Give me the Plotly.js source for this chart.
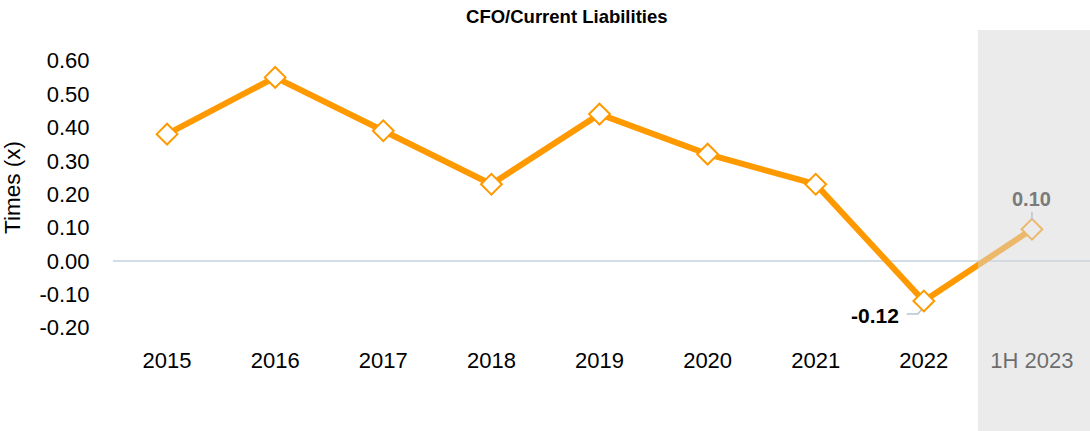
<!DOCTYPE html>
<html>
<head>
<meta charset="utf-8">
<script src="https://cdn.plot.ly/plotly-3.0.1.min.js"></script>
<style>html,body{margin:0;padding:0;background:#fff}#chart{width:1090px;height:431px}</style>
</head>
<body>
<div id="chart"></div>
<script>
var categories = ["2015","2016","2017","2018","2019","2020","2021","2022","1H 2023"];
var values = [0.38, 0.55, 0.39, 0.23, 0.44, 0.32, 0.23, -0.12, 0.095];
var tickLabels = ["2015","2016","2017","2018","2019","2020","2021","2022","1H 2023"];
var yTicks = [-0.2,-0.1,0,0.1,0.2,0.3,0.4,0.5,0.6];
var yTickLabels = ["-0.20","-0.10","0.00","0.10","0.20","0.30","0.40","0.50","0.60"];
var labelledIndex = [7, 8];
var labelledText = ["-0.12", "0.10"];

var FONT = "Liberation Sans, Arial, sans-serif";
var orange = "#FF9900";
var leader = "#b4c4d4";

var trace = {
  type: "scatter",
  mode: "lines+markers",
  x: categories,
  y: values,
  line: {color: orange, width: 6},
  marker: {symbol: "diamond", size: 16, color: "#ffffff", line: {color: orange, width: 2}},
  hoverinfo: "skip",
  cliponaxis: false
};

var i22 = labelledIndex[0], i23 = labelledIndex[1];
var annotations = [
  {x: i22, y: values[i22], xref: "x", yref: "y",
   text: "<b>" + labelledText[0] + "</b>", showarrow: false,
   xshift: -49, yshift: -14,
   font: {family: FONT, size: 21, color: "#000"}},
  {x: i23, y: values[i23], xref: "x", yref: "y",
   text: "<b>" + labelledText[1] + "</b>", showarrow: true, arrowhead: 0,
   arrowcolor: leader, arrowwidth: 1.5, ax: 0, ay: -30, standoff: 9,
   font: {family: FONT, size: 20, color: "#7a7a7a"}}
];

var layout = {
  width: 1090, height: 431,
  margin: {l: 113, r: 0, t: 30, b: 86},
  paper_bgcolor: "#ffffff",
  plot_bgcolor: "#ffffff",
  showlegend: false,
  title: {text: "<b>CFO/Current Liabilities</b>", x: 0.52, xanchor: "center", y: 0.962, yanchor: "middle",
          font: {family: FONT, size: 18.5, color: "#000"}},
  xaxis: {
    type: "category",
    range: [-0.5, 8.537],
    tickvals: categories,
    ticktext: tickLabels,
    showgrid: false, zeroline: false, showline: false,
    ticks: "",
    tickfont: {family: FONT, size: 22, color: "#000"}
  },
  yaxis: {
    range: [-0.2517, 0.692],
    tickvals: yTicks,
    ticktext: yTickLabels,
    showgrid: false, showline: false,
    zeroline: true, zerolinecolor: "#d3dde6", zerolinewidth: 1.5,
    ticks: "outside", ticklen: 18, tickcolor: "rgba(0,0,0,0)",
    tickfont: {family: FONT, size: 22, color: "#000"},
    title: {text: "Times (x)", font: {family: FONT, size: 22.5, color: "#000"}, standoff: 12}
  },
  shapes: [
    {type: "path", layer: "below", xref: "x", yref: "y",
     xsizemode: "pixel", ysizemode: "pixel", xanchor: i22, yanchor: values[i22],
     path: "M -17 -13 L -6 -13 L 0 -6", line: {color: leader, width: 1.5}},
    {type: "rect", layer: "above", xref: "x", yref: "paper",
     x0: 7.5, x1: 9, y0: -0.3, y1: 1,
     fillcolor: "rgba(215,215,215,0.5)", line: {width: 0}}
  ],
  annotations: annotations
};

Plotly.newPlot("chart", [trace], layout, {displayModeBar: false, staticPlot: true});
</script>
</body>
</html>
